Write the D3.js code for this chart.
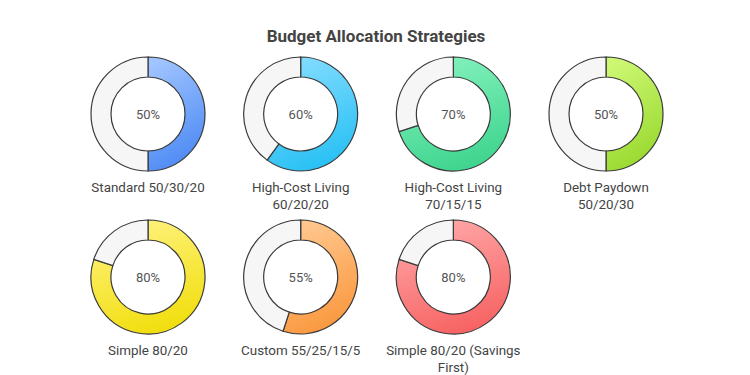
<!DOCTYPE html>
<html>
<head>
<meta charset="utf-8">
<script src="https://cdn.jsdelivr.net/npm/d3@7"></script>
<style>
  body { margin: 0; background: #fff; }
  text { font-family: Roboto, "Noto Sans", sans-serif; }
</style>
</head>
<body>
<div id="chart"></div>
<script>
var strategies = ["Standard 50/30/20", "High-Cost Living 60/20/20", "High-Cost Living 70/15/15",
    "Debt Paydown 50/20/30", "Simple 80/20", "Custom 55/25/15/5", "Simple 80/20 (Savings First)"];
var labelLines = [["Standard 50/30/20"], ["High-Cost Living", "60/20/20"], ["High-Cost Living", "70/15/15"],
    ["Debt Paydown", "50/20/30"], ["Simple 80/20"], ["Custom 55/25/15/5"], ["Simple 80/20 (Savings", "First)"]];
var values = [50, 60, 70, 50, 80, 55, 80];
var lightColors = ["#a0c4ff", "#84dcff", "#84f2bd", "#cdf773", "#fff27e", "#ffc890", "#ffa8a8"];
var darkColors = ["#4a88f4", "#26c0f4", "#3ed48e", "#97d82c", "#f1de0c", "#fa973c", "#f76262"];

function init() {
    var w = 750;
    var h = 375;
    var outerR = 57;
    var innerR = 37;

    var svg = d3.select("#chart")
        .append("svg")
        .attr("width", w)
        .attr("height", h);

    var defs = svg.append("defs");

    svg.append("text")
        .attr("x", 376)
        .attr("y", 42)
        .attr("text-anchor", "middle")
        .attr("font-size", 17)
        .attr("font-weight", "bold")
        .attr("fill", "#444")
        .text("Budget Allocation Strategies");

    var xScale = d3.scalePoint()
        .domain(d3.range(4))
        .range([148, 606]);
    var yScale = d3.scalePoint()
        .domain([0, 1])
        .range([114, 277]);

    var pie = d3.pie().sort(null);
    var arc = d3.arc().innerRadius(innerR).outerRadius(outerR);

    strategies.forEach(function(name, i) {
        var cx = xScale(i % 4);
        var cy = yScale(Math.floor(i / 4));

        // soft diagonal gradient, light at the top
        var grad = defs.append("linearGradient")
            .attr("id", "grad" + i)
            .attr("x1", "0.3").attr("y1", "0")
            .attr("x2", "0.6").attr("y2", "1");
        grad.append("stop").attr("offset", "0%").attr("stop-color", lightColors[i]);
        grad.append("stop").attr("offset", "100%").attr("stop-color", darkColors[i]);

        var g = svg.append("g")
            .attr("transform", "translate(" + cx + "," + cy + ")");

        g.selectAll("path")
            .data(pie([values[i], 100 - values[i]]))
            .enter()
            .append("path")
            .attr("d", arc)
            .attr("fill", function(d, j) { return j === 0 ? "url(#grad" + i + ")" : "#f6f6f6"; })
            .attr("stroke", "#3a3a3a")
            .attr("stroke-width", 1.2);

        g.append("text")
            .attr("text-anchor", "middle")
            .attr("dy", "0.35em")
            .attr("font-size", 13)
            .attr("fill", "#555")
            .text(values[i] + "%");

        g.selectAll(".lbl")
            .data(labelLines[i])
            .enter()
            .append("text")
            .attr("class", "lbl")
            .attr("text-anchor", "middle")
            .attr("y", function(d, k) { return 78 + k * 16.5; })
            .attr("font-size", 13.4)
            .attr("fill", "#444")
            .text(function(d) { return d; });
    });
}

window.onload = init;
</script>
</body>
</html>
